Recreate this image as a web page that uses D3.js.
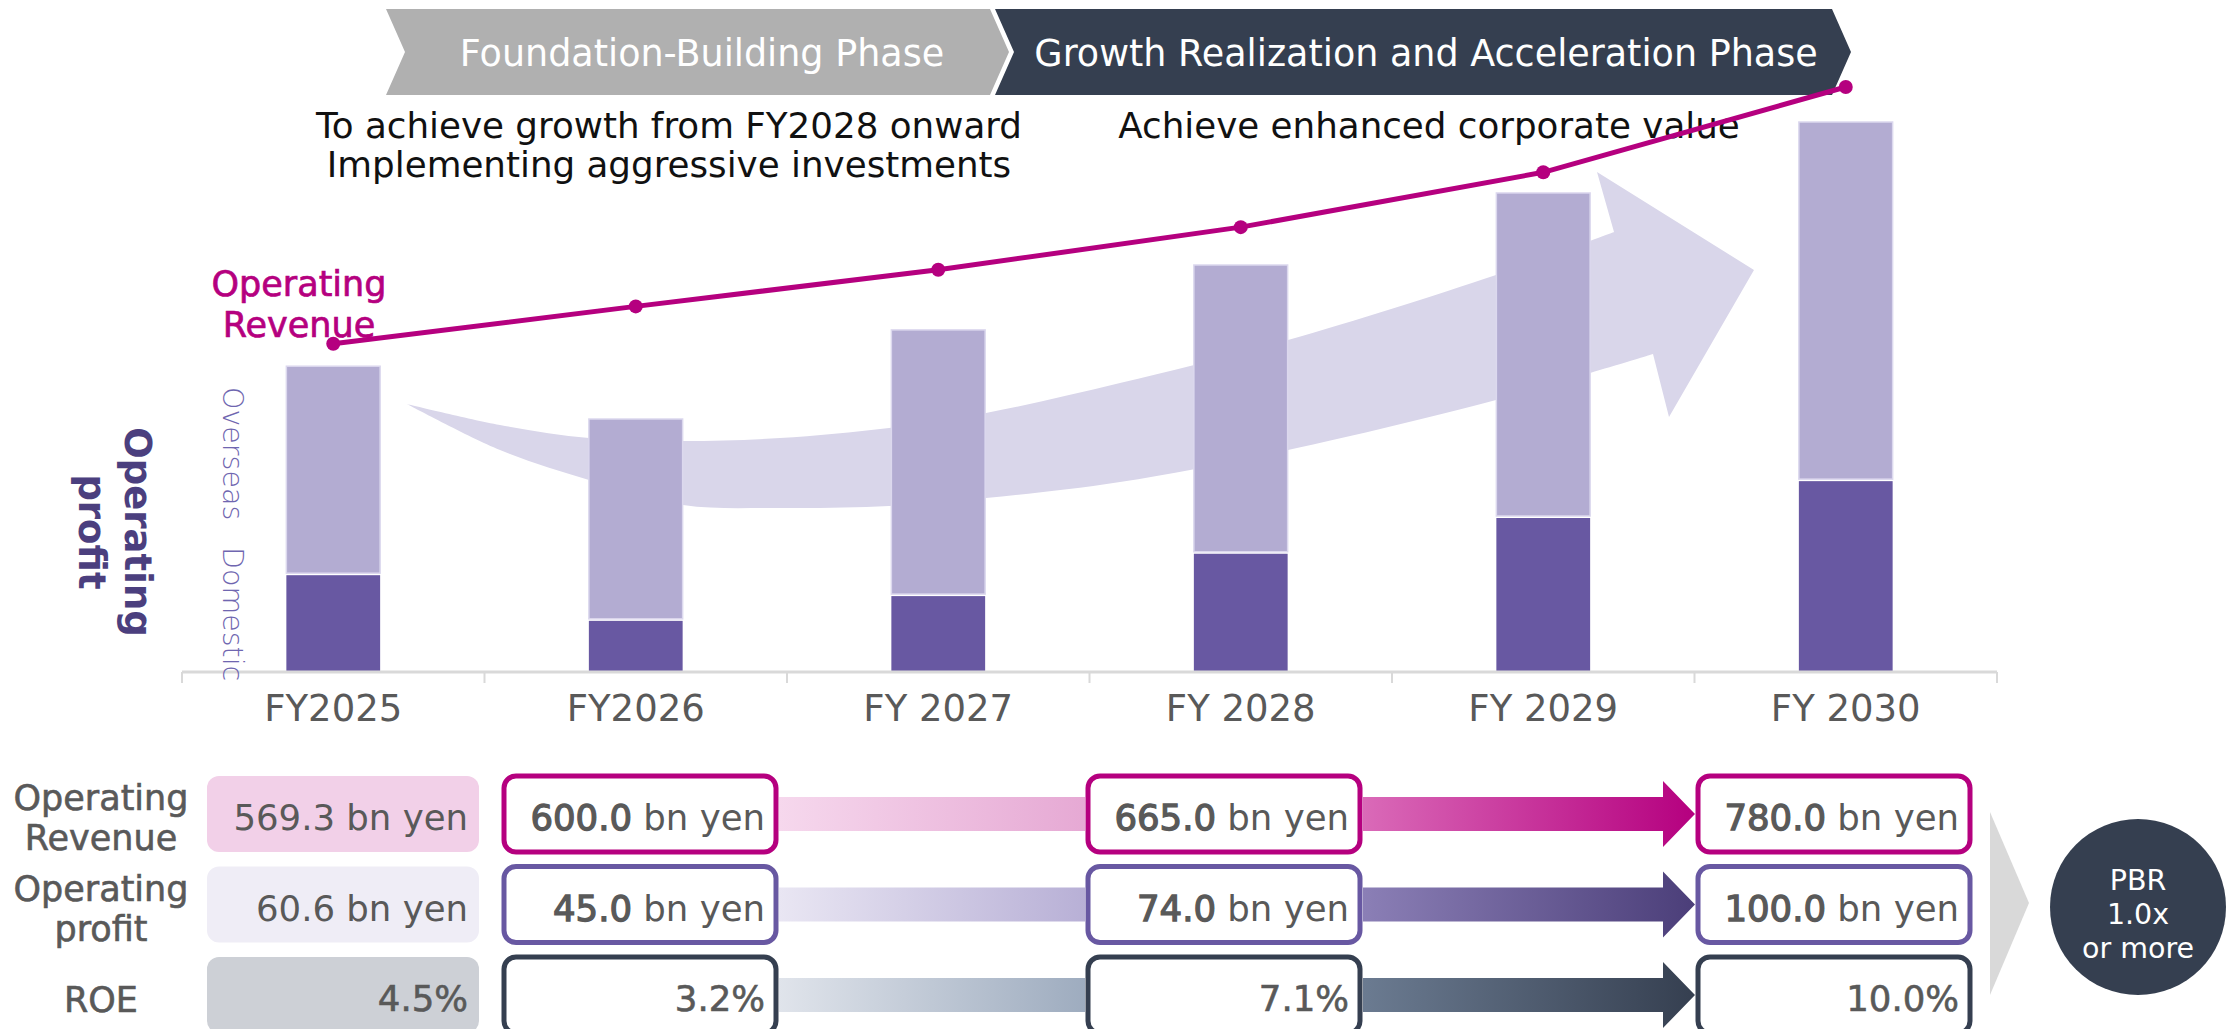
<!DOCTYPE html>
<meta charset="utf-8">
<style>
body { margin: 0; background: #fff; }
text { font-family: "DejaVu Sans", sans-serif; }
</style>
<body>
<script src="https://d3js.org/d3.v7.min.js"></script>
<script>
// chart data (operating profit is drawn on an illustrative scale, 0-100)
var years = ["FY2025", "FY2026", "FY 2027", "FY 2028", "FY 2029", "FY 2030"];
var domestic = [17.6, 9.3, 13.8, 21.5, 28.0, 34.7];
var overseas = [38.0, 36.7, 48.4, 52.5, 59.1, 65.3];
var revenue = [569.3, 600.0, 630.0, 665.0, 710.0, 780.0];

var phases = ["Foundation-Building Phase", "Growth Realization and Acceleration Phase"];
var notes = [["To achieve growth from FY2028 onward", "Implementing aggressive investments"],
             ["Achieve enhanced corporate value"]];

// table data
var tableCols = ["FY2025", "FY2026", "FY2028", "FY2030"];
var tableRows = [["Operating", "Revenue"], ["Operating", "profit"], ["ROE"]];
var revenueRow = [569.3, 600.0, 665.0, 780.0];
var profitRow = [60.6, 45.0, 74.0, 100.0];
var roeRow = [4.5, 3.2, 7.1, 10.0];
var pbr = ["PBR", "1.0x", "or more"];

var width = 2240, height = 1029;
var magenta = "#b5007f", purple = "#6858a2", navy = "#353f50", grey = "#595959";

var svg = d3.select("body").append("svg")
    .attr("width", width)
    .attr("height", height);

var defs = svg.append("defs");
function grad(id, c0, c1) {
  var g = defs.append("linearGradient").attr("id", id)
      .attr("x1", "0%").attr("x2", "100%").attr("y1", "0%").attr("y2", "0%");
  g.append("stop").attr("offset", "0%").attr("stop-color", c0);
  g.append("stop").attr("offset", "100%").attr("stop-color", c1);
}
grad("g0a", "#f6d8ed", "#e6a9d4");
grad("g1a", "#e9e6f3", "#b8b0d6");
grad("g2a", "#e0e4eb", "#9eacbf");
grad("g0b", "#da6ab8", "#b5007f");
grad("g1b", "#8b7fb6", "#4b3e79");
grad("g2b", "#6b7b91", "#353f50");

var x = d3.scaleBand().domain(years).range([182, 1997])
    .paddingInner(0.69).paddingOuter(0.345);
var yP = d3.scaleLinear().domain([0, 100]).range([672, 122]);
var yR = d3.scaleLinear().domain([300, 780]).range([672, 87]);

// phase chevrons
var chev = [[386, 990], [995, 1832]];
svg.selectAll(".phase").data(phases).enter().append("path")
    .attr("d", function(d, i) {
      var a = chev[i][0], b = chev[i][1];
      return "M" + a + ",9L" + b + ",9L" + (b + 19) + ",52L" + b + ",95L" + a + ",95L" + (a + 19) + ",52Z";
    })
    .attr("fill", function(d, i) { return i ? navy : "#b0b0b0"; });
svg.selectAll(".phaseText").data(phases).enter().append("text")
    .attr("x", function(d, i) { return i ? 1426 : 702; })
    .attr("y", 66)
    .attr("text-anchor", "middle")
    .attr("font-size", 36.5)
    .attr("fill", "#fff")
    .text(function(d) { return d; });

// notes under the chevrons
var nt = svg.selectAll(".note").data(notes).enter().append("text")
    .attr("x", function(d, i) { return i ? 1429 : 669; })
    .attr("y", 138)
    .attr("text-anchor", "middle")
    .attr("font-size", 35.7)
    .attr("fill", "#111");
nt.selectAll("tspan").data(function(d) { return d; }).enter().append("tspan")
    .attr("x", function() { return d3.select(this.parentNode).attr("x"); })
    .attr("dy", function(d, i) { return i ? 39 : 0; })
    .text(function(d) { return d; });

// background growth arrow
var upper = [[407, 404], [500, 425], [589, 438], [683, 441], [780, 438], [889, 428],
             [986, 413], [1120, 383], [1288, 340], [1496, 275], [1614, 232]];
var head = [[1597, 172], [1754, 270], [1669, 417], [1653, 354]];
var lower = [[1653, 354], [1496, 400], [1288, 450], [1120, 482], [986, 498], [889, 506],
             [780, 508], [683, 505], [589, 480], [500, 450], [407, 404]];
var curve = d3.line().curve(d3.curveCatmullRom);
var bandPath = curve(upper) + head.map(function(p) { return "L" + p; }).join("") +
    curve(lower).replace(/^M/, "L") + "Z";
svg.append("path").attr("d", bandPath).attr("fill", "#d9d6ea");

// stacked bars
var bars = svg.append("g");
bars.selectAll(".ov").data(years).enter().append("rect")
    .attr("x", function(d) { return x(d); })
    .attr("width", x.bandwidth())
    .attr("y", function(d, i) { return yP(domestic[i] + overseas[i]); })
    .attr("height", function(d, i) { return yP(domestic[i]) - yP(domestic[i] + overseas[i]) - 2; })
    .attr("fill", "#b3acd2")
    .attr("stroke", "#dcd8ee")
    .attr("stroke-width", 1.5);
bars.selectAll(".dom").data(years).enter().append("rect")
    .attr("x", function(d) { return x(d); })
    .attr("width", x.bandwidth())
    .attr("y", function(d, i) { return yP(domestic[i]); })
    .attr("height", function(d, i) { return yP(0) - yP(domestic[i]); })
    .attr("fill", "#6858a2");

// x axis
var axis = svg.append("g")
    .attr("transform", "translate(0," + yP(0) + ")")
    .call(d3.axisBottom(x).tickSize(0).tickPadding(23));
axis.select(".domain").remove();
axis.selectAll("text")
    .attr("font-size", 37)
    .attr("font-family", "DejaVu Sans")
    .attr("fill", grey);
axis.append("line")
    .attr("x1", x.range()[0]).attr("x2", x.range()[1])
    .attr("stroke", "#d9d9d9").attr("stroke-width", 3);
axis.selectAll(".bound").data(d3.range(years.length + 1)).enter().append("line")
    .attr("x1", function(i) { return x.range()[0] + i * x.step(); })
    .attr("x2", function(i) { return x.range()[0] + i * x.step(); })
    .attr("y1", 0).attr("y2", 11)
    .attr("stroke", "#d9d9d9").attr("stroke-width", 2);

// axis titles
var opT = svg.append("text")
    .attr("transform", "translate(125,532) rotate(90)")
    .attr("text-anchor", "middle")
    .attr("font-size", 37)
    .attr("font-weight", "bold")
    .attr("fill", "#4b3f7e");
opT.append("tspan").attr("x", 0).text("Operating");
opT.append("tspan").attr("x", 0).attr("dy", 46).text("profit");

[["Overseas", 387], ["Domestic", 547]].forEach(function(d) {
  svg.append("text")
      .attr("transform", "translate(223," + d[1] + ") rotate(90)")
      .attr("font-size", 28.5)
      .attr("font-weight", 200)
      .attr("fill", "#6f66b0")
      .text(d[0]);
});

// revenue line
var line = d3.line()
    .x(function(d, i) { return x(years[i]) + x.bandwidth() / 2; })
    .y(function(d) { return yR(d); });
svg.append("path").datum(revenue)
    .attr("d", line)
    .attr("fill", "none")
    .attr("stroke", magenta)
    .attr("stroke-width", 5);
svg.selectAll(".pt").data(revenue).enter().append("circle")
    .attr("cx", function(d, i) { return x(years[i]) + x.bandwidth() / 2; })
    .attr("cy", function(d) { return yR(d); })
    .attr("r", 7)
    .attr("fill", magenta);

var revT = svg.append("text")
    .attr("font-size", 35)
    .attr("fill", magenta)
    .attr("stroke", magenta)
    .attr("stroke-width", 0.7)
    .attr("text-anchor", "middle");
revT.append("tspan").attr("x", 299).attr("y", 296).text("Operating");
revT.append("tspan").attr("x", 299).attr("y", 337).text("Revenue");

// table
var rowY = d3.scaleBand().domain(d3.range(3)).range([768.75, 1040.25])
    .paddingInner(0.16).paddingOuter(0.08);
var colX = [207, 504, 1088, 1698], boxW = 272;
var rowColor = [magenta, purple, navy];
var rowFill = ["#f2d0e8", "#efedf6", "#cdd0d6"];
var rowVals = [revenueRow, profitRow, roeRow];
var table = svg.append("g");

tableRows.forEach(function(lab, r) {
  var cy = rowY(r) + rowY.bandwidth() / 2;
  var t = table.append("text")
      .attr("text-anchor", "middle")
      .attr("font-size", 35)
      .attr("fill", grey).attr("stroke", grey).attr("stroke-width", 0.6);
  lab.forEach(function(s, k) {
    t.append("tspan").attr("x", 101)
        .attr("y", lab.length > 1 ? cy - 4 + k * 40 : cy + 17)
        .text(s);
  });

  // connectors
  table.append("rect")
      .attr("x", colX[1] + boxW + 3).attr("width", colX[2] - colX[1] - boxW - 6)
      .attr("y", cy - 17).attr("height", 34)
      .attr("fill", "url(#g" + r + "a)");
  var x0 = colX[2] + boxW + 3, x1 = colX[3] - 3, hx = x1 - 32;
  table.append("path")
      .attr("d", "M" + x0 + "," + (cy - 17) + "L" + hx + "," + (cy - 17) + "L" + hx + "," + (cy - 33) +
                 "L" + x1 + "," + cy + "L" + hx + "," + (cy + 33) + "L" + hx + "," + (cy + 17) +
                 "L" + x0 + "," + (cy + 17) + "Z")
      .attr("fill", "url(#g" + r + "b)");

  rowVals[r].forEach(function(v, c) {
    table.append("rect")
        .attr("x", colX[c]).attr("y", rowY(r))
        .attr("width", boxW).attr("height", rowY.bandwidth())
        .attr("rx", 12)
        .attr("fill", c ? "#fff" : rowFill[r])
        .attr("stroke", c ? rowColor[r] : "none")
        .attr("stroke-width", 5);
    var tx = table.append("text")
        .attr("x", colX[c] + boxW - 11)
        .attr("y", cy + 16)
        .attr("text-anchor", "end")
        .attr("font-size", 35.5)
        .attr("fill", grey);
    var w = r === 2 ? 0.6 : (c ? 1.3 : 0);
    tx.append("tspan")
        .attr("stroke", w ? grey : "none").attr("stroke-width", w)
        .text(v.toFixed(1) + (r === 2 ? "%" : ""));
    if (r < 2) tx.append("tspan").text(" bn yen");
  });
});

// PBR target
svg.append("path")
    .attr("d", "M1990,812L2029,903L1990,995Z")
    .attr("fill", "#d9d9d9");
svg.append("circle")
    .attr("cx", 2138).attr("cy", 907).attr("r", 88)
    .attr("fill", navy);
svg.append("text")
    .attr("text-anchor", "middle")
    .attr("font-size", 28.5)
    .attr("fill", "#fff")
    .selectAll("tspan").data(pbr).enter().append("tspan")
    .attr("x", 2138)
    .attr("y", function(d, i) { return 890 + i * 34; })
    .text(function(d) { return d; });
</script>
</body>
